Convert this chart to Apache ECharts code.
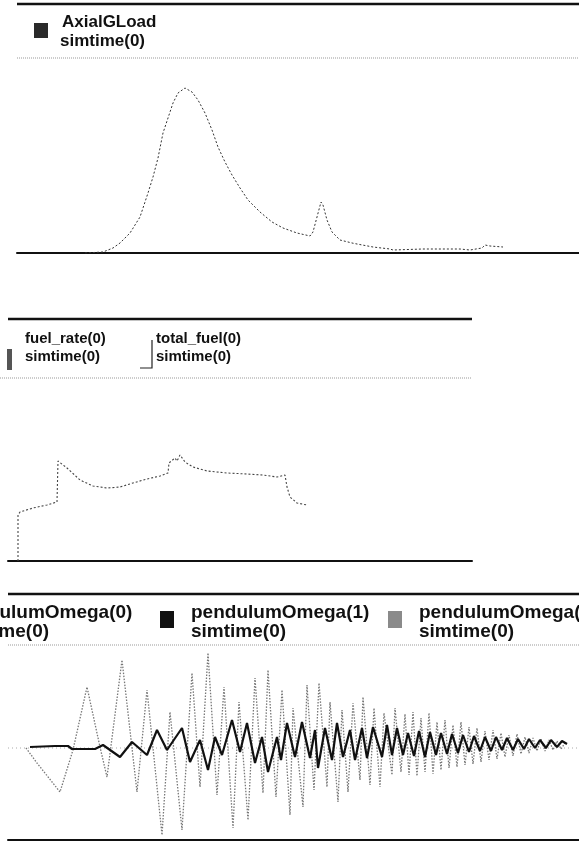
<!DOCTYPE html>
<html><head><meta charset="utf-8">
<script src="https://cdn.jsdelivr.net/npm/echarts@6/dist/echarts.min.js"></script>
<style>html,body{margin:0;padding:0;background:#fff}#c{width:579px;height:846px}</style>
</head><body><div id="c"></div>
<script>
// Panel 1: AxialGLoad vs simtime(0)
const axialTime = [6.8,8.6,9.6,10.3,11.3,12.3,13.1,13.6,14.1,14.6,15.1,15.6,16.1,16.8,17.5,18.1,18.8,19.5,20.1,20.8,21.5,22.3,23.1,24.3,25.5,26.6,28.0,29.3,29.6,30.0,30.4,30.6,31.0,31.5,32.3,33.5,33.6,34.0,35.6,37.3,37.6,40.6,44.3,45.3,46.5,46.8,47.3,48.6];
const axialLoad = [0,0.05,0.25,0.5,1.0,1.8,3.0,3.8,4.75,6.0,6.75,7.5,8.0,8.25,8.05,7.65,7.0,6.15,5.3,4.55,3.9,3.25,2.65,2.05,1.55,1.25,1.0,0.85,1.05,1.8,2.55,2.4,1.65,1.05,0.65,0.5,0.6,0.45,0.3,0.2,0.15,0.2,0.2,0.15,0.25,0.4,0.35,0.3];

// Panel 2: fuel_rate(0) vs simtime(0)
const fuelTime = [1.0,1.0,1.2,2.5,3.9,4.9,5.0,5.9,7.2,8.5,9.9,11.2,12.5,13.9,15.2,16.0,16.1,16.7,16.9,17.2,17.7,18.5,19.9,21.9,23.9,25.5,26.9,27.7,27.9,28.2,28.9,29.9];
const fuelRate = [0,4.6,4.9,5.3,5.6,5.9,10.0,9.3,8.1,7.5,7.3,7.4,7.8,8.2,8.5,8.8,9.8,10.3,10.0,10.6,9.9,9.4,9.0,8.8,8.7,8.6,8.4,8.6,7.4,6.4,5.8,5.6];

// Panel 3: pendulumOmega(0..2) vs simtime(0)
const omega0Time = [0.0, 57.1];
const omega0 = [0, 0];
const omega1Time = [2.2,4.7,6.0,6.4,8.7,9.5,11.2,12.4,13.9,14.9,15.9,17.4,18.2,19.2,20.0,20.7,21.4,22.4,23.2,23.9,24.7,25.4,26.0,26.9,27.3,27.9,28.7,29.4,30.2,30.7,31.0,31.7,32.4,32.9,33.5,34.2,34.7,35.4,35.9,36.5,37.4,37.9,38.4,38.9,39.5,40.0,40.6,41.1,41.7,42.2,42.8,43.3,43.9,44.4,45.0,45.5,46.1,46.6,47.2,47.7,48.3,48.8,49.4,49.9,50.5,51.0,51.6,52.1,52.7,53.2,53.8,54.3,54.9,55.4,55.9];
const omega1 = [0.1,0.2,0.2,-0.1,-0.1,0.3,-0.9,0.6,-0.7,1.8,-0.2,2.0,-1.4,0.8,-2.2,1.1,-0.7,2.8,-0.4,2.5,-1.5,1.1,-2.4,1.1,-1.2,2.5,-0.9,2.6,-1.0,1.8,-2.0,2.0,-1.2,2.5,-0.9,1.8,-1.2,2.0,-1.0,2.1,-0.9,2.3,-0.7,2.0,-0.7,1.5,-0.8,1.7,-0.9,1.6,-0.7,1.5,-0.6,1.4,-0.5,1.3,-0.4,1.2,-0.3,1.1,-0.3,1.1,-0.2,1.0,-0.2,0.9,-0.1,0.9,0.0,0.8,0.0,0.8,0.1,0.7,0.4];
const omega2Time = [1.8,2.9,5.2,6.5,7.9,9.2,9.9,11.4,12.9,13.9,15.4,16.2,17.4,18.4,19.2,20.0,20.9,21.6,22.5,23.1,24.0,24.7,25.5,26.0,26.8,27.4,28.2,28.5,29.5,29.9,30.6,31.1,31.9,32.2,33.0,33.4,34.0,34.5,35.2,35.5,36.2,36.6,37.2,37.6,38.4,38.7,39.3,39.7,40.1,40.5,40.9,41.3,41.7,42.1,42.5,42.9,43.3,43.7,44.1,44.5,44.9,45.3,45.7,46.1,46.5,46.9,47.3,47.7,48.1,48.5,48.9,49.3,49.7,50.1,50.5,50.9,51.3,51.7,52.1,52.5,52.9,53.3,53.7,54.1,54.5,54.9,55.3,55.7];
const omega2 = [0,-1.5,-4.4,-0.2,6.1,0.1,-2.9,8.8,-4.4,5.8,-8.7,3.6,-8.2,7.5,-3.9,9.5,-4.7,6.1,-8.0,4.6,-7.2,7.0,-4.5,7.8,-4.9,5.8,-6.7,4.0,-5.9,6.3,-4.2,6.5,-3.9,4.6,-5.4,3.8,-4.4,4.5,-3.2,5.1,-3.7,4.0,-3.9,3.5,-2.7,4.0,-2.4,3.4,-2.7,3.6,-2.8,3.0,-2.4,3.5,-2.6,2.6,-2.2,2.8,-2.0,2.3,-1.9,2.6,-1.7,2.1,-1.6,2.0,-1.4,1.7,-1.2,1.8,-1.1,1.5,-0.9,1.3,-0.8,1.4,-0.6,1.1,-0.5,1.0,-0.3,0.9,-0.3,0.8,-0.2,0.7,-0.1,0.5];

// Legend labels
const legend1 = [['AxialGLoad', 'simtime(0)']];
const legend2 = [['fuel_rate(0)', 'simtime(0)'], ['total_fuel(0)', 'simtime(0)']];
const legend3 = [['pendulumOmega(0)', 'simtime(0)'], ['pendulumOmega(1)', 'simtime(0)'], ['pendulumOmega(2)', 'simtime(0)']];

const zip = (a, b) => a.map((v, i) => [v, b[i]]);
const FF = '"Liberation Sans", Arial, sans-serif';

function xAx(idx, max) {
  return { gridIndex: idx, type: 'value', min: 0, max: max,
    axisLine: { show: true, onZero: false, lineStyle: { color: '#111', width: 2 } },
    axisTick: { show: false }, axisLabel: { show: false }, splitLine: { show: false } };
}
function yAx(idx, min, max) {
  return { gridIndex: idx, type: 'value', min: min, max: max, show: false,
    axisLine: { show: false }, axisTick: { show: false }, axisLabel: { show: false }, splitLine: { show: false } };
}
function hline(x1, x2, y, w, dash, color) {
  return { type: 'line', silent: true, shape: { x1: x1, y1: y, x2: x2, y2: y },
    style: { stroke: color || '#111', lineWidth: w, lineDash: dash || null } };
}
function txt(x, y, s, size) {
  return { type: 'text', silent: true, x: x, y: y,
    style: { text: s, font: 'bold ' + size + 'px ' + FF, fill: '#111', verticalAlign: 'top', align: 'left' } };
}

const graphics = [
  // panel 1
  hline(17, 579, 4, 2.5),
  { type: 'rect', shape: { x: 34, y: 23, width: 14, height: 15 }, style: { fill: '#2a2a2a' } },
  txt(62, 14, legend1[0][0], 17), txt(60, 33, legend1[0][1], 17),
  hline(17, 579, 58, 1, [1, 1], '#999'),
  // panel 2
  hline(8, 472, 319, 2.5),
  { type: 'rect', shape: { x: 7, y: 349, width: 5, height: 21 }, style: { fill: '#555' } },
  txt(25, 331, legend2[0][0], 15), txt(25, 349, legend2[0][1], 15),
  { type: 'polyline', silent: true, shape: { points: [[140, 368], [152, 368], [152, 340]] }, style: { stroke: '#222', lineWidth: 1.2, fill: null } },
  txt(156, 331, legend2[1][0], 15), txt(156, 349, legend2[1][1], 15),
  hline(0, 472, 378, 1, [1, 1], '#999'),
  // panel 3
  hline(8, 579, 594, 2.5),
  txt(-46, 603, legend3[0][0], 19), txt(-46, 622, legend3[0][1], 19),
  { type: 'rect', shape: { x: 160, y: 611, width: 14, height: 17 }, style: { fill: '#111' } },
  txt(191, 603, legend3[1][0], 19), txt(191, 622, legend3[1][1], 19),
  { type: 'rect', shape: { x: 388, y: 611, width: 14, height: 17 }, style: { fill: '#8a8a8a' } },
  txt(419, 603, legend3[2][0], 19), txt(419, 622, legend3[2][1], 19),
  hline(8, 579, 645, 1, [1, 1], '#999')
];

const chart = echarts.init(document.getElementById('c'), null, { renderer: 'canvas' });
chart.setOption({
  animation: false,
  backgroundColor: '#fff',
  grid: [
    { left: 17, top: 53, width: 562, height: 200 },
    { left: 8, top: 381, width: 464, height: 180 },
    { left: 8, top: 648, width: 571, height: 192 }
  ],
  xAxis: [xAx(0, 56.2), xAx(1, 46.4), xAx(2, 57.1)],
  yAxis: [yAx(0, 0, 10), yAx(1, 0, 18), yAx(2, -9.2, 10)],
  graphic: graphics,
  series: [
    { name: 'AxialGLoad', type: 'line', xAxisIndex: 0, yAxisIndex: 0, showSymbol: false, data: zip(axialTime, axialLoad),
      lineStyle: { color: '#333', width: 1, type: [2, 2] } },
    { name: 'fuel_rate(0)', type: 'line', xAxisIndex: 1, yAxisIndex: 1, showSymbol: false, data: zip(fuelTime, fuelRate),
      lineStyle: { color: '#444', width: 1.1, type: [2, 2] } },
    { name: 'pendulumOmega(0)', type: 'line', xAxisIndex: 2, yAxisIndex: 2, showSymbol: false, data: zip(omega0Time, omega0),
      lineStyle: { color: '#aaa', width: 1, type: [1, 3] } },
    { name: 'pendulumOmega(2)', type: 'line', xAxisIndex: 2, yAxisIndex: 2, showSymbol: false, data: zip(omega2Time, omega2),
      lineStyle: { color: '#777', width: 1.3, type: [1.5, 1.5] } },
    { name: 'pendulumOmega(1)', type: 'line', xAxisIndex: 2, yAxisIndex: 2, showSymbol: false, data: zip(omega1Time, omega1),
      lineStyle: { color: '#111', width: 2.2 } }
  ]
});
</script></body></html>
